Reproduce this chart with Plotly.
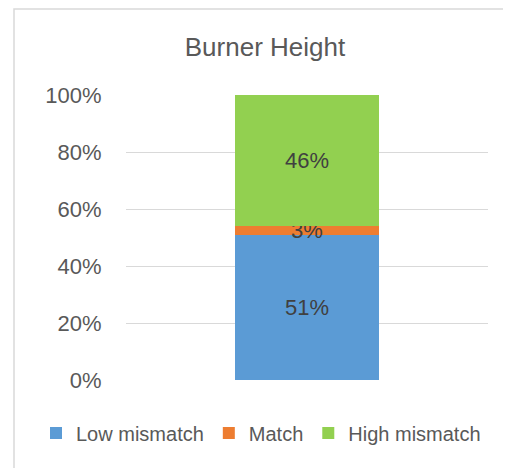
import plotly.graph_objects as go

# share of cases per mismatch class
category = ["Burner Height"]
series_names = ["Low mismatch", "Match", "High mismatch"]
series_values = [[0.51], [0.03], [0.46]]
series_colors = ["#5b9bd5", "#ed7d31", "#92d050"]
y_ticks = [0, 0.2, 0.4, 0.6, 0.8, 1.0]

FONT = "Liberation Sans, Arial, sans-serif"
W, H = 511, 468
# page body has an 8px margin, so figure coords = page coords - 8
L, T, PW, PH = 118, 87, 362, 285

fig = go.Figure()
for name, vals, col in zip(series_names, series_values, series_colors):
    fig.add_trace(go.Bar(
        x=category, y=vals, name=name,
        marker=dict(color=col, line=dict(width=0)),
        width=0.4,
        texttemplate="%{y:.0%}",
        textposition="inside",
        insidetextanchor="middle",
        constraintext="none",
        textfont=dict(family=FONT, size=22, color="#404040"),
    ))

fig.update_layout(
    barmode="stack",
    width=W, height=H,
    margin=dict(l=L, r=W - L - PW, t=T, b=H - T - PH, autoexpand=False),
    paper_bgcolor="white", plot_bgcolor="white",
    title=dict(text="Burner Height", x=257 / W, xanchor="center",
               y=1 - 39 / H, yanchor="middle",
               font=dict(family=FONT, size=26, color="#595959")),
    legend=dict(orientation="h", x=(28 - L) / PW, xanchor="left",
                y=(T + PH - 425) / PH, yanchor="middle",
                traceorder="normal", itemwidth=30,
                font=dict(family=FONT, size=20, color="#595959")),
    xaxis=dict(showticklabels=False, showgrid=False, zeroline=False, showline=False,
               range=[-0.5, 0.5]),
    yaxis=dict(range=[0, 1.0005], tickvals=y_ticks, tickformat=".0%",
               showgrid=True, gridcolor="#d9d9d9", gridwidth=1, zeroline=False,
               ticks="outside", ticklen=19, tickcolor="rgba(0,0,0,0)",
               tickfont=dict(family=FONT, size=22, color="#595959")),
    showlegend=True,
)

# chart frame (Excel style light border, runs past the right/bottom edge)
fig.add_shape(type="rect", xref="paper", yref="paper",
              x0=(6 - L) / PW, x1=(530 - L) / PW,
              y0=-(H - T - PH + 20) / PH, y1=(T + PH - 1) / PH,
              line=dict(color="#d9d9d9", width=1.5), layer="below")

fig.write_html("out.html")
